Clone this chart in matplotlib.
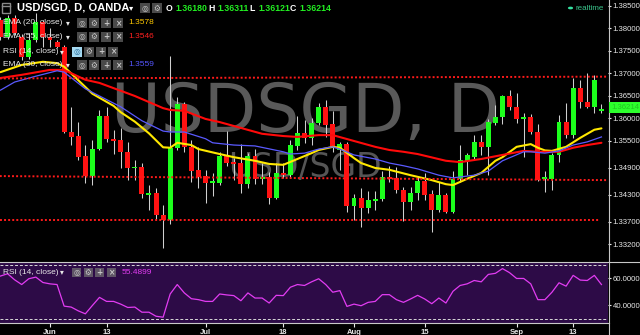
import matplotlib
matplotlib.use("Agg")
import matplotlib.pyplot as plt
from matplotlib.patches import Rectangle, Circle
from matplotlib.lines import Line2D
import numpy as np

plt.rcParams['font.family'] = ['Liberation Sans', 'DejaVu Sans']

# ---------------- data ----------------
tick_idx = [7, 15, 29, 40, 50, 60, 73, 81]
tick_lbl = ['Jun', '13', 'Jul', '18', 'Aug', '15', 'Sep', '13']

opens = [1.3819, 1.3781, 1.3823, 1.3781, 1.3737, 1.3774, 1.3814, 1.3781, 1.3770, 1.3759,
         1.3570, 1.3561, 1.3517, 1.3472, 1.3532, 1.3606, 1.3555, 1.3552, 1.3526, 1.3490,
         1.3492, 1.3432, 1.3434, 1.3386, 1.3374, 1.3535, 1.3632, 1.3537, 1.3486, 1.3472,
         1.3457, 1.3457, 1.3517, 1.3503, 1.3501, 1.3454, 1.3517, 1.3466, 1.3470, 1.3423,
         1.3479, 1.3474, 1.3539, 1.3568, 1.3557, 1.3590, 1.3626, 1.3588, 1.3530, 1.3543,
         1.3406, 1.3423, 1.3401, 1.3417, 1.3421, 1.3470, 1.3468, 1.3441, 1.3414, 1.3434,
         1.3461, 1.3432, 1.3397, 1.3430, 1.3392, 1.3466, 1.3506, 1.3514, 1.3548, 1.3537,
         1.3590, 1.3603, 1.3650, 1.3626, 1.3599, 1.3603, 1.3570, 1.3466, 1.3466, 1.3519,
         1.3592, 1.3563, 1.3668, 1.3637, 1.3626, 1.36180]
highs = [1.3826, 1.3830, 1.3830, 1.3788, 1.3790, 1.3834, 1.3819, 1.3801, 1.3774, 1.3763,
         1.3626, 1.3592, 1.3541, 1.3552, 1.3619, 1.3626, 1.3574, 1.3579, 1.3548, 1.3508,
         1.3501, 1.3452, 1.3446, 1.3408, 1.3739, 1.3648, 1.3637, 1.3552, 1.3537, 1.3486,
         1.3479, 1.3526, 1.3572, 1.3512, 1.3543, 1.3523, 1.3532, 1.3501, 1.3481, 1.3501,
         1.3501, 1.3552, 1.3606, 1.3597, 1.3601, 1.3634, 1.3641, 1.3617, 1.3548, 1.3548,
         1.3432, 1.3446, 1.3439, 1.3439, 1.3483, 1.3495, 1.3492, 1.3448, 1.3448, 1.3470,
         1.3479, 1.3441, 1.3459, 1.3434, 1.3483, 1.3541, 1.3523, 1.3563, 1.3563, 1.3599,
         1.3630, 1.3652, 1.3663, 1.3657, 1.3612, 1.3610, 1.3588, 1.3483, 1.3523, 1.3608,
         1.3634, 1.3690, 1.3686, 1.3701, 1.3697, 1.36311]
lows = [1.3774, 1.3777, 1.3785, 1.3730, 1.3732, 1.3770, 1.3759, 1.3759, 1.3757, 1.3568,
        1.3541, 1.3508, 1.3457, 1.3452, 1.3530, 1.3548, 1.3521, 1.3490, 1.3463, 1.3463,
        1.3423, 1.3397, 1.3374, 1.3312, 1.3366, 1.3530, 1.3526, 1.3459, 1.3446, 1.3412,
        1.3428, 1.3452, 1.3495, 1.3463, 1.3434, 1.3446, 1.3454, 1.3454, 1.3410, 1.3421,
        1.3468, 1.3470, 1.3530, 1.3546, 1.3541, 1.3586, 1.3559, 1.3526, 1.3486, 1.3392,
        1.3374, 1.3359, 1.3390, 1.3397, 1.3417, 1.3459, 1.3434, 1.3372, 1.3397, 1.3419,
        1.3419, 1.3348, 1.3392, 1.3390, 1.3390, 1.3459, 1.3474, 1.3510, 1.3519, 1.3474,
        1.3586, 1.3588, 1.3619, 1.3590, 1.3514, 1.3566, 1.3461, 1.3437, 1.3441, 1.3503,
        1.3557, 1.3557, 1.3623, 1.3623, 1.3612, 1.36121]
closes = [1.3781, 1.3823, 1.3790, 1.3737, 1.3774, 1.3814, 1.3781, 1.3774, 1.3759, 1.3570,
          1.3559, 1.3514, 1.3472, 1.3532, 1.3606, 1.3555, 1.3550, 1.3526, 1.3490, 1.3492,
          1.3432, 1.3434, 1.3386, 1.3374, 1.3535, 1.3632, 1.3537, 1.3483, 1.3470, 1.3457,
          1.3459, 1.3517, 1.3501, 1.3499, 1.3454, 1.3517, 1.3466, 1.3468, 1.3423, 1.3479,
          1.3474, 1.3541, 1.3568, 1.3557, 1.3590, 1.3626, 1.3586, 1.3537, 1.3543, 1.3406,
          1.3423, 1.3401, 1.3419, 1.3421, 1.3470, 1.3466, 1.3441, 1.3414, 1.3434, 1.3461,
          1.3430, 1.3397, 1.3430, 1.3392, 1.3466, 1.3508, 1.3519, 1.3548, 1.3537, 1.3592,
          1.3603, 1.3650, 1.3626, 1.3599, 1.3603, 1.3570, 1.3463, 1.3468, 1.3519, 1.3592,
          1.3563, 1.3668, 1.3637, 1.3626, 1.3686, 1.36214]

ema20_idx = [0, 3, 6, 8, 9, 11, 13, 14, 16, 17, 19, 21, 23, 24, 25, 27, 28, 31, 33, 36,
             38, 40, 42, 44, 45, 47, 48, 50, 51, 53, 55, 58, 61, 63, 64, 66, 68, 70, 71, 73,
             75, 76, 77, 78, 80, 82, 84, 85]
ema20_val = [1.3703, 1.3719, 1.3726, 1.3723, 1.3715, 1.3685, 1.3655, 1.3646, 1.3628, 1.3614,
             1.3593, 1.3567, 1.3536, 1.3535, 1.3546, 1.3541, 1.3532, 1.3521, 1.3514, 1.3506,
             1.3499, 1.3497, 1.3510, 1.3523, 1.3530, 1.3537, 1.3535, 1.3512, 1.3501, 1.3490,
             1.3486, 1.3474, 1.3463, 1.3454, 1.3452, 1.3466, 1.3479, 1.3506, 1.3514, 1.3537,
             1.3543, 1.3535, 1.3529, 1.3528, 1.3537, 1.3557, 1.3575, 1.3578]

ema55_idx = [0, 3, 7, 9, 12, 14, 19, 23, 24, 26, 29, 31, 34, 37, 40, 42, 45, 47, 50, 53,
             55, 57, 59, 63, 65, 68, 71, 74, 76, 79, 81, 83, 85]
ema55_val = [1.3690, 1.3697, 1.3708, 1.3708, 1.3686, 1.3679, 1.3650, 1.3623, 1.3619, 1.3617,
             1.3599, 1.3592, 1.3579, 1.3566, 1.3561, 1.3559, 1.3563, 1.3563, 1.3550, 1.3537,
             1.3530, 1.3526, 1.3521, 1.3506, 1.3503, 1.3510, 1.3519, 1.3528, 1.3526, 1.3526,
             1.3535, 1.3541, 1.3546]

ema30_idx = [0, 2, 5, 8, 9, 12, 14, 17, 20, 23, 24, 26, 29, 30, 33, 36, 40, 41, 43, 45,
             47, 48, 50, 53, 55, 57, 59, 62, 64, 67, 69, 71, 74, 75, 77, 79, 81, 83, 85]
ema30_val = [1.3663, 1.3681, 1.3694, 1.3706, 1.3703, 1.3666, 1.3650, 1.3626, 1.3595, 1.3572,
             1.3570, 1.3570, 1.3555, 1.3546, 1.3541, 1.3539, 1.3526, 1.3521, 1.3523, 1.3532,
             1.3537, 1.3532, 1.3519, 1.3510, 1.3501, 1.3495, 1.3488, 1.3474, 1.3468, 1.3474,
             1.3483, 1.3506, 1.3526, 1.3526, 1.3523, 1.3528, 1.3541, 1.3548, 1.3559]

rsi = [61.8, 63.5, 59.0, 55.5, 59.8, 61.0, 57.0, 56.0, 55.5, 39.5,
       38.8, 36.0, 33.8, 40.0, 46.0, 43.0, 43.0, 41.0, 38.5, 38.8,
       35.0, 35.0, 32.0, 31.3, 48.5, 55.5, 49.3, 45.0, 44.3, 43.0,
       43.0, 48.5, 47.8, 47.3, 43.5, 49.3, 45.5, 45.5, 41.8, 47.5,
       47.3, 53.5, 55.5, 54.8, 57.5, 59.8, 55.5, 49.8, 51.0, 39.3,
       41.0, 39.8, 42.3, 43.0, 48.0, 48.0, 44.3, 42.3, 44.8, 47.5,
       44.8, 41.3, 45.5, 41.8, 50.5, 54.8, 56.0, 58.5, 57.5, 63.0,
       63.8, 67.3, 64.3, 60.0, 60.0, 56.0, 44.3, 44.3, 49.8, 56.8,
       54.3, 62.3, 58.8, 58.5, 62.3, 55.4899]
rsi_bands = [70, 30]

# user-drawn dotted support / resistance lines: (x0, y0, x1, y1)
trend_x0 = [-0.1, -0.1, -0.1]
trend_y0 = [1.3689, 1.3472, 1.3374]
trend_x1 = [86.0, 86.0, 84.6]
trend_y1 = [1.3693, 1.3463, 1.3374]

price_ticks = [1.385, 1.380, 1.375, 1.370, 1.365, 1.360, 1.355, 1.349, 1.343, 1.337, 1.332]
rsi_ticks = [60, 40]
last_price = 1.36214

# ---------------- style / layout ----------------
W, H = 640, 335
GREEN = '#1cff1c'
RED = '#ff1212'
WHITE = '#e8e8e8'
PURPLE_BG = '#2d0b47'

fig = plt.figure(figsize=(6.4, 3.35), dpi=100, facecolor='black')


def fx(x):
    return x / W


def fy(y):
    return 1 - y / H


XL = (-0.07, 608 / 7.07 - 0.07)
MAIN_BOTTOM = 261
ax = fig.add_axes([0, fy(MAIN_BOTTOM), fx(608), MAIN_BOTTOM / H])
ax.set_facecolor('black')
ax.set_xlim(XL)
ax.set_ylim(1.38633 - MAIN_BOTTOM / 4500.0, 1.38633)
for s in ax.spines.values():
    s.set_visible(False)

# watermarks
ax.text(0.503, 1 - 132 / MAIN_BOTTOM, 'USDSGD, D', transform=ax.transAxes, ha='center',
        va='baseline', fontsize=49, color='#595959', family='DejaVu Sans', zorder=0)
ax.text(0.5016, 1 - 177 / MAIN_BOTTOM, 'USD/SGD', transform=ax.transAxes, ha='center',
        va='baseline', fontsize=23.8, color='#555555', family='DejaVu Sans', zorder=0)

# candles
idx = np.arange(len(opens))
o = np.array(opens); h = np.array(highs); l = np.array(lows); c = np.array(closes)
up = c >= o
ax.vlines(idx, l, h, color='#cfcfcf', lw=0.75, zorder=2)
min_body = 0.0004
span = np.abs(c - o)
mid = (o + c) / 2
body_h = np.maximum(span, min_body)
body_bot = np.where(span < min_body, mid - min_body / 2, np.minimum(o, c))
ax.bar(idx, body_h, bottom=body_bot, width=0.7, color=np.where(up, GREEN, RED),
       linewidth=0, zorder=3)

# EMAs
ax.plot(ema20_idx, ema20_val, color='#ffe800', lw=1.5, zorder=5, solid_capstyle='round')
ax.plot(ema55_idx, ema55_val, color='#ff0a0a', lw=1.5, zorder=5, solid_capstyle='round')
ax.plot(ema30_idx, ema30_val, color='#5a5aff', lw=0.9, zorder=6)

# dotted lines
for x0, y0, x1, y1 in zip(trend_x0, trend_y0, trend_x1, trend_y1):
    ax.plot([x0, x1], [y0, y1], color='#ff1a1a', lw=1.4, ls=(0, (1.0, 1.1)), zorder=7)

ax.set_xticks([])
ax.yaxis.tick_right()
ax.set_yticks(price_ticks)
ax.set_yticklabels([f'{v:.5f}' for v in price_ticks])
ax.tick_params(axis='y', colors=WHITE, length=2.5, width=0.8, pad=0.8, labelsize=5.6)

# price label on the right axis
fig.add_artist(Rectangle((fx(609), fy(113)), 31 / W, 11 / H, transform=fig.transFigure,
                         facecolor='#2cff2c', edgecolor='none', zorder=10))
fig.text(fx(611), fy(107.5), f'{last_price:.5f}', color='#22c422', fontsize=5.6,
         ha='left', va='center', zorder=11)

# RSI panel
ax2 = fig.add_axes([0, fy(323), fx(608), (323 - 262) / H])
ax2.set_facecolor(PURPLE_BG)
ax2.set_xlim(XL)
ax2.set_ylim(27.0, 72.2)
for s in ax2.spines.values():
    s.set_visible(False)
for b in rsi_bands:
    ax2.axhline(b, color='#d8d8d8', lw=0.7, ls=(0, (3, 2)), zorder=2)
ax2.plot(idx, rsi, color='#e23cf2', lw=0.9, zorder=3)
ax2.set_xticks(tick_idx)
ax2.set_xticklabels(tick_lbl, fontweight='bold')
ax2.tick_params(axis='x', colors=WHITE, length=3, width=0.8, pad=1.0, labelsize=5.5)
ax2.yaxis.tick_right()
ax2.set_yticks(rsi_ticks)
ax2.set_yticklabels([f'{v:.4f}' for v in rsi_ticks])
ax2.tick_params(axis='y', colors=WHITE, length=2.5, width=0.8, pad=0.8, labelsize=5.6)

# frame lines
fig.add_artist(Line2D([0, 1], [fy(261.5), fy(261.5)], transform=fig.transFigure,
                      color='#c8c8c8', lw=0.8))
fig.add_artist(Line2D([0, fx(608.5)], [fy(323), fy(323)], transform=fig.transFigure,
                      color='#c8c8c8', lw=0.8))
fig.add_artist(Line2D([fx(608.5), fx(608.5)], [0, 1], transform=fig.transFigure,
                      color='#c8c8c8', lw=0.8))


# ---------------- legend texts and icons ----------------
def icon(x, y, glyph, fc='#4a4a4a', gc='#c8c8c8', size=10):
    fig.add_artist(Rectangle((fx(x), fy(y + size)), size / W, size / H,
                             transform=fig.transFigure, facecolor=fc, edgecolor='none',
                             zorder=20))
    fig.text(fx(x + size / 2), fy(y + size / 2 + 0.3), glyph, color=gc, fontsize=5.5,
             ha='center', va='center', family='DejaVu Sans', fontweight='bold', zorder=21)


def ftext(x, y, s, color=WHITE, size=6, weight='normal', **kw):
    fig.text(fx(x), fy(y), s, color=color, fontsize=size, fontweight=weight,
             ha='left', va='center', zorder=22, **kw)


# title row
fig.add_artist(Rectangle((fx(2), fy(13)), 8 / W, 10 / H, transform=fig.transFigure,
                         facecolor='none', edgecolor='#8a8a8a', lw=1.0, zorder=20))
fig.add_artist(Line2D([fx(2), fx(10)], [fy(6), fy(6)], transform=fig.transFigure,
                      color='#8a8a8a', lw=1.0, zorder=20))
ftext(17, 8, 'USD/SGD, D, OANDA', size=8, weight='bold', color='white')
ftext(129, 8, '▾', size=6, color='white', family='DejaVu Sans')
icon(140, 3, '◎')
icon(152, 3, '⚙')
ohlc_lbl = ['O', 'H', 'L', 'C']
ohlc_val = [opens[-1], highs[-1], lows[-1], closes[-1]]
ohlc_x = [166, 208, 249, 290]
for lx, lb, v in zip(ohlc_x, ohlc_lbl, ohlc_val):
    ftext(lx, 8.5, lb, size=6.3, weight='bold', color='white')
    ftext(lx + 9, 8.5, f'{v:.5f}', size=6.3, weight='bold', color='#22ee22')

# realtime badge
fig.add_artist(Circle((fx(570.5), fy(8)), 2.6 / W, transform=fig.transFigure,
                      facecolor='#35e0a0', edgecolor='none', zorder=20))
ftext(576, 8, 'realtime', size=5.8, color='#3ac58c')

rows = [('EMA (20, close)', 23, '1.3578', '#ffc800'),
        ('EMA (55, close)', 36.5, '1.3546', '#ff2020'),
        ('RSI (14, close)', 51.5, None, None),
        ('EMA (30, close)', 65, '1.3559', '#5656ff')]
for label, y, val, col in rows:
    ftext(3, y, label, size=6)
    if val is None:
        ftext(60, y, '▾', size=5.5, family='DejaVu Sans')
        icon(72, y - 5, '◎', fc='#a4d8f0', gc='#2a6d99')
        icon(84, y - 5, '⚙')
        icon(96, y - 5, '+')
        icon(108, y - 5, '×')
    else:
        ftext(65.5, y, '▾', size=5.5, family='DejaVu Sans')
        icon(77, y - 5, '◎')
        icon(89, y - 5, '⚙')
        icon(101, y - 5, '+')
        icon(113, y - 5, '×')
        ftext(128, y, val, size=6, color=col)

# RSI panel legend
ftext(3, 272, 'RSI (14, close)', size=6)
ftext(60, 272, '▾', size=5.5, family='DejaVu Sans')
for xi, g in zip([72, 83.5, 95, 106.5], ['◎', '⚙', '+', '×']):
    icon(xi, 268, g, fc='#5f5566', gc='#c8c8c8', size=9)
ftext(122, 272, f'{rsi[-1]:.4f}', size=6, color='#e23cf2')

fig.savefig('out.png', dpi=100, facecolor='black')
